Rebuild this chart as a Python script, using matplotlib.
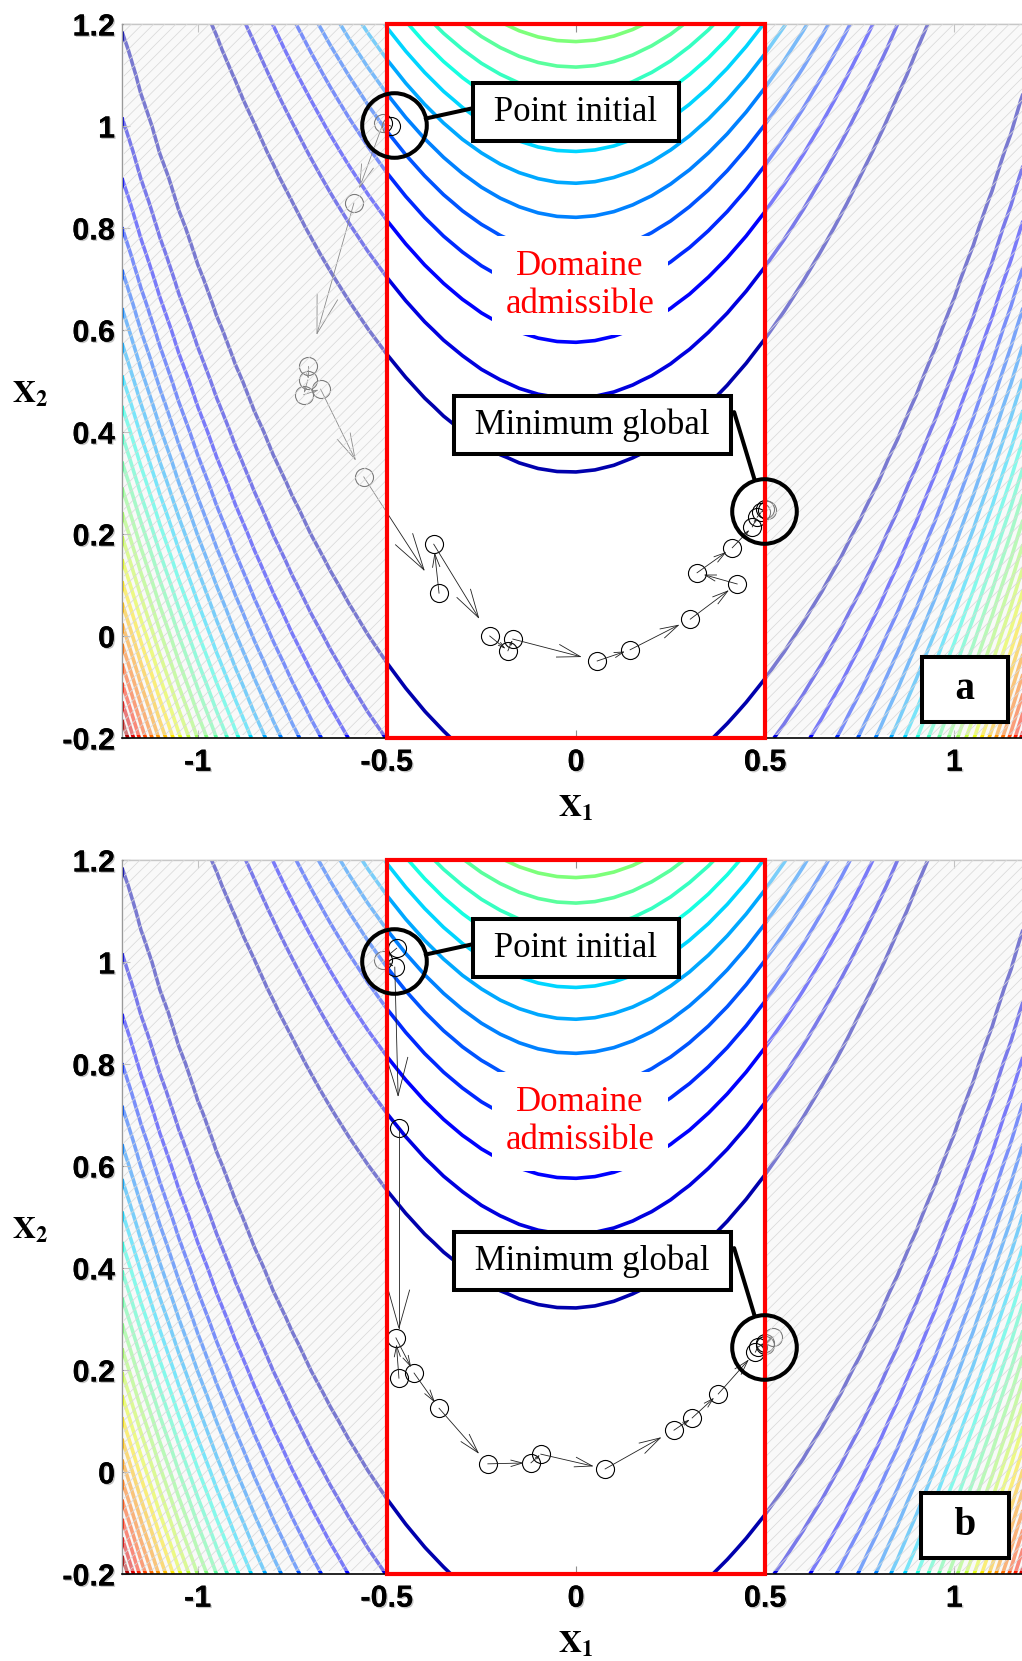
import numpy as np
import matplotlib
matplotlib.use("Agg")
import matplotlib.pyplot as plt
import matplotlib.patheffects as pe
from matplotlib.patches import Rectangle
from matplotlib.colors import Normalize

# ---------------- data ----------------
X1_LIM = (-1.2, 1.2)
X2_LIM = (-0.2, 1.2)
FEASIBLE_X1 = (-0.5, 0.5)
x1_ticks = [-1, -0.5, 0, 0.5, 1]
x1_tick_labels = ["-1", "-0.5", "0", "0.5", "1"]
x2_ticks = [-0.2, 0, 0.2, 0.4, 0.6, 0.8, 1.0, 1.2]
x2_tick_labels = ["-0.2", "0", "0.2", "0.4", "0.6", "0.8", "1", "1.2"]
n_grid_x1 = 49
n_grid_x2 = 29
n_level_intervals = 24
quiver_scale = 0.8

# iterates of run (a)
path_a_x1 = [-0.49, -0.51, -0.587, -0.709, -0.709, -0.72, -0.675, -0.561, -0.362,
             -0.376, -0.228, -0.18, -0.167, 0.056, 0.143, 0.302, 0.426, 0.32,
             0.413, 0.466, 0.479, 0.489, 0.505, 0.5]
path_a_x2 = [1.0, 1.005, 0.849, 0.529, 0.502, 0.473, 0.484, 0.312, 0.084,
             0.18, 0.0, -0.029, -0.006, -0.049, -0.027, 0.033, 0.102, 0.124,
             0.173, 0.214, 0.233, 0.243, 0.247, 0.25]
# iterates of run (b)
path_b_x1 = [-0.474, -0.511, -0.479, -0.468, -0.468, -0.476, -0.428, -0.362, -0.233,
             -0.119, -0.093, 0.077, 0.259, 0.307, 0.376, 0.474, 0.481, 0.5, 0.521, 0.5]
path_b_x2 = [1.027, 1.004, 0.99, 0.675, 0.184, 0.263, 0.194, 0.125, 0.016,
             0.018, 0.035, 0.006, 0.082, 0.106, 0.153, 0.235, 0.245, 0.253, 0.265, 0.25]

start_point = (-0.481, 1.001)
global_min = (0.497, 0.245)
label_initial = "Point initial"
label_initial_pos = (-0.001, 1.027)
label_initial_anchor = (-0.272, 1.035)
label_min = "Minimum global"
label_min_pos = (0.044, 0.414)
label_min_anchor = (0.418, 0.439)
label_domain = "Domaine\nadmissible"
label_domain_pos = (0.011, 0.688)
panel_labels = ["a", "b"]
panel_label_pos = (1.029, -0.105)


def rosenbrock(a, b):
    return 100.0 * (b - a ** 2) ** 2 + (1.0 - a) ** 2


plt.rcParams['font.family'] = ['Liberation Sans', 'DejaVu Sans']
plt.rcParams['mathtext.fontset'] = 'stix'
plt.rcParams['hatch.linewidth'] = 0.55

W, H = 1022, 1661
fig = plt.figure(figsize=(W / 100, H / 100), dpi=100)


def px_axes(left, top, right, bottom):
    return [left / W, 1 - bottom / H, (right - left) / W, (bottom - top) / H]


g1 = np.linspace(X1_LIM[0], X1_LIM[1], n_grid_x1)
g2 = np.linspace(X2_LIM[0], X2_LIM[1], n_grid_x2)
G1, G2 = np.meshgrid(g1, g2)
Z = rosenbrock(G1, G2)
zmin, zmax = Z.min(), Z.max()
levels = np.linspace(zmin, zmax, n_level_intervals + 1)[1:-1]

SERIF = ['Liberation Serif', 'DejaVu Serif']
SHADOW = [pe.withSimplePatchShadow(offset=(1.0, -1.0), shadow_rgbFace=(0.55, 0.55, 0.55),
                                   alpha=0.5), pe.Normal()]


def draw_path(ax, xs, ys):
    xs = np.asarray(xs, float)
    ys = np.asarray(ys, float)
    ax.plot(xs, ys, ls='none', marker='o', ms=13, mfc='none', mec='black',
            mew=0.8, zorder=2)
    T = ax.transData
    inv = T.inverted()
    for k in range(len(xs) - 1):
        p0 = T.transform((xs[k], ys[k]))
        p1 = T.transform((xs[k + 1], ys[k + 1]))
        d = (p1 - p0) * quiver_scale
        L = np.hypot(*d)
        if L < 1e-6:
            continue
        tip = p0 + d
        u = d / L
        n = np.array([-u[1], u[0]])
        hl = min(0.33 * L, 38.0)
        h1 = tip - hl * u + 0.28 * hl * n
        h2 = tip - hl * u - 0.28 * hl * n
        shaft = inv.transform(np.array([p0, tip]))
        head = inv.transform(np.array([h1, tip, h2]))
        ax.plot(shaft[:, 0], shaft[:, 1], color='#202020', lw=0.6, zorder=2)
        ax.plot(head[:, 0], head[:, 1], color='#202020', lw=0.6, zorder=2)


def make_panel(ax, px1, px2, panel_label):
    ax.set_xlim(*X1_LIM)
    ax.set_ylim(*X2_LIM)
    ax.contour(G1, G2, Z, levels=levels, cmap='jet', norm=Normalize(zmin, zmax),
               linewidths=2.6, zorder=1)
    draw_path(ax, px1, px2)

    # infeasible zones: veil + hatch
    eps = 0.006
    for xa, xb in [(X1_LIM[0] + eps, FEASIBLE_X1[0]), (FEASIBLE_X1[1], X1_LIM[1])]:
        y0 = X2_LIM[0] + eps
        h = X2_LIM[1] - y0
        ax.add_patch(Rectangle((xa, y0), xb - xa, h, fc=(0.96, 0.96, 0.96),
                               alpha=0.5, ec='none', zorder=3))
        ax.add_patch(Rectangle((xa, y0), xb - xa, h, fc='none', ec=(0.85, 0.85, 0.85),
                               lw=0, hatch='///', zorder=3.1))

    ax.add_patch(Rectangle((FEASIBLE_X1[0], X2_LIM[0]), FEASIBLE_X1[1] - FEASIBLE_X1[0],
                           X2_LIM[1] - X2_LIM[0], fill=False, ec='red', lw=3,
                           zorder=4, clip_on=False))

    # circles
    for pt in (start_point, global_min):
        ax.plot([pt[0]], [pt[1]], ls='none', marker='o', ms=46.5, mfc='none',
                mec='black', mew=2.9, zorder=5)

    box = dict(boxstyle='square,pad=0.36', fc='white', ec='black', lw=2.9)
    for txt, pos, anchor, target in [(label_initial, label_initial_pos, label_initial_anchor, start_point),
                                     (label_min, label_min_pos, label_min_anchor, global_min)]:
        ax.text(pos[0], pos[1], ' ' + txt + ' ', ha='center', va='center', fontsize=25,
                family=SERIF, bbox=box, zorder=6)
        ax.annotate('', xy=target, xytext=anchor,
                    arrowprops=dict(arrowstyle='-', color='black', lw=2.9,
                                    shrinkA=0, shrinkB=23.4), zorder=5)

    ax.text(label_domain_pos[0], label_domain_pos[1], label_domain, ha='center',
            va='center', fontsize=25, family=SERIF, color='red', linespacing=1.2,
            bbox=dict(boxstyle='square,pad=0.4', fc='white', ec='none'), zorder=5)

    ax.text(panel_label_pos[0], panel_label_pos[1], '  ' + panel_label + '  ', ha='center',
            va='center', fontsize=28, fontweight='bold', family=SERIF,
            bbox=dict(boxstyle='square,pad=0.35', fc='white', ec='black', lw=2.9),
            zorder=6)

    ax.set_xticks(x1_ticks)
    ax.set_xticklabels(x1_tick_labels, fontsize=22, fontweight='bold')
    ax.set_yticks(x2_ticks)
    ax.set_yticklabels(x2_tick_labels, fontsize=22, fontweight='bold')
    for lbl in ax.get_xticklabels() + ax.get_yticklabels():
        lbl.set_path_effects(SHADOW)
    ax.tick_params(direction='in', length=6, width=0.8, color='#909090',
                   top=True, right=True)
    ax.tick_params(axis='x', pad=7)
    ax.tick_params(axis='y', pad=5)
    for s in ['left', 'top', 'right']:
        ax.spines[s].set_color('#999999')
        ax.spines[s].set_linewidth(1.0)
    ax.spines['bottom'].set_color('black')
    ax.spines['bottom'].set_linewidth(1.2)

    ax.set_xlabel(r'$\mathbf{X}_{\mathbf{1}}$', fontsize=23)
    ax.xaxis.set_label_coords(0.5, -0.078)
    ax.set_ylabel(r'$\mathbf{X}_{\mathbf{2}}$', fontsize=23, rotation=0,
                  va='center', ha='center')
    ax.yaxis.set_label_coords(-0.101, 0.48)


ax_a = fig.add_axes(px_axes(122, 24, 1030, 738))
ax_b = fig.add_axes(px_axes(122, 860, 1030, 1574))
make_panel(ax_a, path_a_x1, path_a_x2, panel_labels[0])
make_panel(ax_b, path_b_x1, path_b_x2, panel_labels[1])

fig.savefig('out.png', dpi=100, facecolor='white')
